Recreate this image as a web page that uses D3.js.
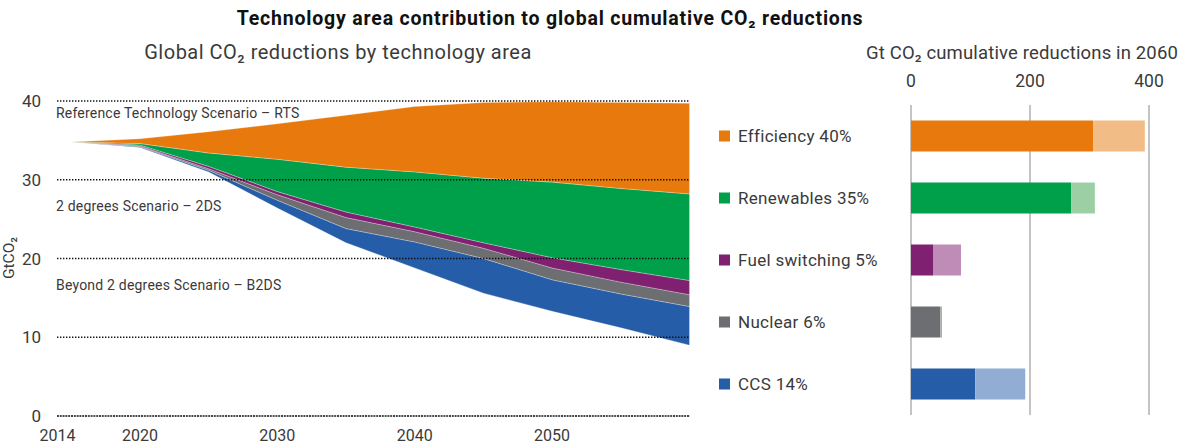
<!DOCTYPE html>
<html>
<head>
<meta charset="utf-8">
<script src="https://cdn.jsdelivr.net/npm/d3@7"></script>
<style>
  body { margin: 0; background: #fff; }
  svg { font-family: Roboto, "Noto Sans", sans-serif; }
</style>
</head>
<body>
<svg width="1187" height="448"></svg>
<script>
// left chart: emissions in GtCO2 per year
const years = [2015, 2020, 2025, 2030, 2035, 2040, 2045, 2050, 2055, 2060];
const b2ds = [34.8, 34.1, 31.0, 26.4, 22.0, 18.8, 15.6, 13.3, 11.2, 9.0];
const ccs = [0, 0.1, 0.2, 1.0, 1.8, 3.3, 4.4, 4.0, 4.3, 4.9];
const nuclear = [0, 0.1, 0.2, 0.7, 1.4, 1.3, 1.3, 1.5, 1.5, 1.5];
const fuelSwitching = [0, 0.1, 0.3, 0.4, 0.7, 0.6, 0.7, 1.3, 1.6, 1.8];
const renewables = [0, 0.2, 1.7, 4.1, 5.7, 7.0, 8.2, 9.6, 10.3, 11.0];
const efficiency = [0, 0.6, 2.7, 4.5, 6.6, 8.3, 9.6, 10.2, 10.9, 11.5];

const yTicks = [0, 10, 20, 30, 40];
const xTicks = [2014, 2020, 2030, 2040, 2050];

// right chart: cumulative reductions in 2060 (2DS part, extra B2DS part)
const techs = ["Efficiency 40%", "Renewables 35%", "Fuel switching 5%", "Nuclear 6%", "CCS 14%"];
const cum2ds = [306, 269, 37, 49, 108];
const cumExtra = [87, 40, 47, 3, 84];
const cumTicks = [0, 200, 400];

const colors = ["#e8790c", "#00a04b", "#7f2170", "#6d6e71", "#265da8"];
const lightColors = ["#f2bc86", "#9ccfa4", "#bf8cb8", "#a9a9ab", "#92add4"];

const svg = d3.select("svg");
const textCol = "#3a3a3a";

// titles
svg.append("text").attr("x", 550).attr("y", 25).attr("text-anchor", "middle")
    .attr("font-weight", "bold").attr("font-size", 19.5).attr("letter-spacing", 0.8)
    .attr("fill", "#111")
    .text("Technology area contribution to global cumulative CO₂ reductions");
svg.append("text").attr("x", 338).attr("y", 59).attr("text-anchor", "middle")
    .attr("font-size", 20).attr("letter-spacing", 0.5).attr("fill", textCol)
    .text("Global CO₂ reductions by technology area");
svg.append("text").attr("x", 866).attr("y", 59)
    .attr("font-size", 18.5).attr("letter-spacing", 0.15).attr("fill", textCol)
    .text("Gt CO₂ cumulative reductions in 2060");

// ---- left: stacked area ----
const x = d3.scaleLinear().domain([2014, 2060]).range([57.5, 689.5]);
const y = d3.scaleLinear().domain([0, 40]).range([416, 101]);

const table = years.map((yr, i) => ({
    year: yr, base: b2ds[i], ccs: ccs[i], nuclear: nuclear[i],
    fuel: fuelSwitching[i], renewables: renewables[i], efficiency: efficiency[i]
}));
const keys = ["base", "ccs", "nuclear", "fuel", "renewables", "efficiency"];
const series = d3.stack().keys(keys)(table);

const area = d3.area()
    .x(d => x(d.data.year))
    .y0(d => y(d[0]))
    .y1(d => y(d[1]));

svg.append("g").selectAll("path")
    .data(series.slice(1))
    .join("path")
    .attr("d", area)
    .attr("fill", (d, i) => colors[4 - i])
    .attr("stroke", "#ffffff")
    .attr("stroke-opacity", 0.45)
    .attr("stroke-width", 0.6);

// dotted gridlines on top
svg.append("g").selectAll("line")
    .data(yTicks)
    .join("line")
    .attr("x1", 57).attr("x2", 690)
    .attr("y1", d => y(d)).attr("y2", d => y(d))
    .attr("stroke", "#111")
    .attr("stroke-width", d => d === 0 ? 1.6 : 1.4)
    .attr("stroke-dasharray", d => d === 0 ? "2,0.8" : "1.4,1.6");

svg.append("g").selectAll("text")
    .data(yTicks)
    .join("text")
    .attr("x", 41).attr("y", d => y(d) + 6)
    .attr("text-anchor", "end").attr("font-size", 17).attr("fill", textCol)
    .text(d => d);

svg.append("g").selectAll("text")
    .data(xTicks)
    .join("text")
    .attr("x", d => x(d)).attr("y", 441)
    .attr("text-anchor", "middle").attr("font-size", 16).attr("fill", textCol)
    .text(d => d);

svg.append("text")
    .attr("transform", "translate(14,258) rotate(-90)")
    .attr("text-anchor", "middle").attr("font-size", 15.5).attr("fill", textCol)
    .text("GtCO₂");

const scenLabels = [
    { t: "Reference Technology Scenario – RTS", y: 118 },
    { t: "2 degrees Scenario – 2DS", y: 211 },
    { t: "Beyond 2 degrees Scenario – B2DS", y: 290 }
];
svg.append("g").selectAll("text")
    .data(scenLabels)
    .join("text")
    .attr("x", 56).attr("y", d => d.y)
    .attr("font-size", 14).attr("letter-spacing", 0.2).attr("fill", textCol)
    .text(d => d.t);

// ---- right: cumulative bars ----
const xb = d3.scaleLinear().domain([0, 400]).range([911, 1149]);
const yb = d3.scaleBand().domain(techs).range([105, 415])
    .paddingInner(0.5).paddingOuter(0.25);

svg.append("g").selectAll("line")
    .data(cumTicks)
    .join("line")
    .attr("x1", d => xb(d)).attr("x2", d => xb(d))
    .attr("y1", 105).attr("y2", 415)
    .attr("stroke", "#b0b0b0").attr("stroke-width", 1.5);

svg.append("g").selectAll("text")
    .data(cumTicks)
    .join("text")
    .attr("x", d => xb(d)).attr("y", 87)
    .attr("text-anchor", "middle").attr("font-size", 17.5).attr("fill", textCol)
    .text(d => d);

const bars = svg.append("g");
bars.selectAll(".solid")
    .data(techs)
    .join("rect")
    .attr("class", "solid")
    .attr("x", xb(0))
    .attr("y", d => yb(d))
    .attr("width", (d, i) => xb(cum2ds[i]) - xb(0))
    .attr("height", yb.bandwidth())
    .attr("fill", (d, i) => colors[i]);
bars.selectAll(".extra")
    .data(techs)
    .join("rect")
    .attr("class", "extra")
    .attr("x", (d, i) => xb(cum2ds[i]))
    .attr("y", d => yb(d))
    .attr("width", (d, i) => xb(cum2ds[i] + cumExtra[i]) - xb(cum2ds[i]))
    .attr("height", yb.bandwidth())
    .attr("fill", (d, i) => lightColors[i]);

const legend = svg.append("g").selectAll("g")
    .data(techs)
    .join("g")
    .attr("transform", d => `translate(719,${yb(d) + yb.bandwidth() / 2})`);
legend.append("rect")
    .attr("x", 0).attr("y", -5.5).attr("width", 11).attr("height", 11)
    .attr("fill", (d, i) => colors[i]);
legend.append("text")
    .attr("x", 19).attr("y", 6)
    .attr("font-size", 17).attr("letter-spacing", 0.3).attr("fill", textCol)
    .text(d => d);
</script>
</body>
</html>
